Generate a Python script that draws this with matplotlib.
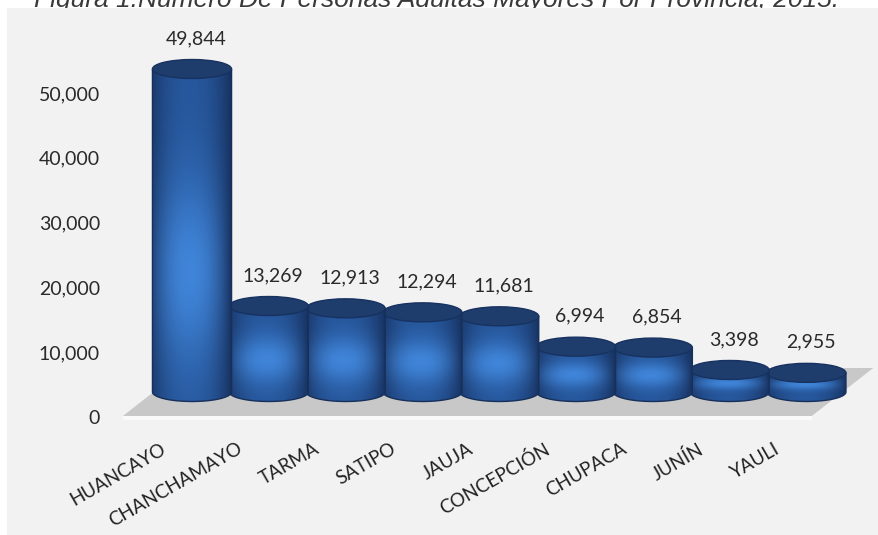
import numpy as np
import matplotlib
matplotlib.use("Agg")
import matplotlib.pyplot as plt
from matplotlib.patches import Ellipse, Polygon, Rectangle
from matplotlib.ticker import FuncFormatter

# ---- data ----
provincias = ["HUANCAYO", "CHANCHAMAYO", "TARMA", "SATIPO", "JAUJA",
              "CONCEPCIÓN", "CHUPACA", "JUNÍN", "YAULI"]
adultos_mayores = [49844, 13269, 12913, 12294, 11681, 6994, 6854, 3398, 2955]
ticks_valor = [0, 10000, 20000, 30000, 40000, 50000]
titulo = "Figura 1:Número De Personas Adultas Mayores Por Provincia, 2015."

plt.rcParams["font.family"] = ["Lato", "DejaVu Sans"]

W, H, DPI = 879, 535, 100
fig = plt.figure(figsize=(W / DPI, H / DPI), dpi=DPI, facecolor="white")

# chart area background and the clipped caption above it
fig.patches.append(Rectangle((7 / W, 0), 1, (H - 8) / H, transform=fig.transFigure,
                             facecolor="#f2f2f2", edgecolor="none", zorder=-1))
fig.text(34 / W, 1 - 7.5 / H, titulo, fontsize=19, style="italic",
         family=["Liberation Sans", "DejaVu Sans"], color="#3a3a3a",
         va="baseline", ha="left", zorder=-2)

# scale: pixels per unit of value
ppu = 6.48 / 1000.0
text_col = "#2a2a2a"

# value-axis labels
zero_px = 417
ax_val = fig.add_axes([100 / W, 0, 1 - 100 / W, 1], zorder=0)
ax_val.set_facecolor("none")
ax_val.set_ylim(-(H - zero_px) / ppu, zero_px / ppu)
ax_val.set_yticks(ticks_valor)
ax_val.yaxis.set_major_formatter(FuncFormatter(lambda v, p: f"{int(v):,}"))
ax_val.tick_params(axis="y", length=0, pad=0, labelsize=14, labelcolor=text_col)
ax_val.set_xticks([])
for s in ax_val.spines.values():
    s.set_visible(False)

# cylinder axes
base_px = 392
x0_px, step_px = 192, 76.8
ax = fig.add_axes([0, 0, 1, 1], zorder=1)
ax.set_facecolor("none")
ax.set_xlim(-x0_px / step_px, (W - x0_px) / step_px)
ax.set_ylim(-(H - base_px) / ppu, base_px / ppu)
ax.axis("off")

n = len(provincias)
w = 1.03
ry = 9.5 / ppu          # half height of the elliptical caps
depth = 24 / ppu        # half depth of the floor

# floor
slant = 0.40
floor = Polygon([(-0.90, -depth), (n - 1 + 0.07, -depth),
                 (n - 1 + 0.07 + 2 * slant, depth), (-0.90 + 2 * slant, depth)],
                closed=True, facecolor="#c8c8c8", edgecolor="none", zorder=1)
ax.add_patch(floor)
ax.add_patch(Polygon([(-0.90, -depth), (n - 1 + 0.07, -depth),
                      (n - 1 + 0.07, -depth - 4 / ppu), (-0.90, -depth - 4 / ppu)],
                     closed=True, facecolor="#fafafa", edgecolor="none", zorder=1))

dark = np.array([0.09, 0.19, 0.37])
mid = np.array([0.15, 0.34, 0.61])
hi = np.array([0.25, 0.52, 0.85])

nx, ny = 120, 240
u = np.linspace(0, 1, nx)
hx = 1 - np.abs((u - 0.47) / 0.53) ** 2.2
hx = np.clip(hx, 0, 1)

for i, (name, v) in enumerate(zip(provincias, adultos_mayores)):
    z = 10 + (n - i) * 3
    yb = -ry
    t = np.linspace(yb, v, ny) / v
    hy = np.exp(-((t - 0.37) / 0.28) ** 2)
    HX, HY = np.meshgrid(hx, hy)
    img = (dark[None, None, :]
           + (mid - dark)[None, None, :] * HX[..., None]
           + (hi - mid)[None, None, :] * (HX * HY)[..., None])
    img = np.clip(img, 0, 1)

    # body outline: straight sides plus the front half of the base ellipse
    th = np.linspace(np.pi, 2 * np.pi, 60)
    bottom = np.column_stack([i + w / 2 * np.cos(th), ry * np.sin(th)])
    outline = np.vstack([[i - w / 2, v], bottom, [i + w / 2, v]])
    body = Polygon(outline, closed=True, facecolor="none",
                   edgecolor="#16305a", lw=1.0, zorder=z + 1)
    im = ax.imshow(img, extent=(i - w / 2, i + w / 2, yb, v), origin="lower",
                   aspect="auto", interpolation="bilinear", zorder=z)
    ax.add_patch(body)
    im.set_clip_path(body)

    top = Ellipse((i, v), w, 2 * ry, facecolor="#1e3c6c", edgecolor="#173260",
                  lw=1.0, zorder=z + 2)
    ax.add_patch(top)

    ax.annotate(f"{v:,}", xy=(i, v), xytext=(3, 22), textcoords="offset points",
                ha="center", va="center", fontsize=14, color=text_col, zorder=50)
    ax.annotate(name, xy=(i, 0), xytext=(-32 * 0.72, -48 * 0.72),
                textcoords="offset points", rotation=30, rotation_mode="anchor",
                ha="right", va="top", fontsize=13.5, color="#222222", zorder=50)

fig.savefig("out.png", dpi=DPI, facecolor="white")
